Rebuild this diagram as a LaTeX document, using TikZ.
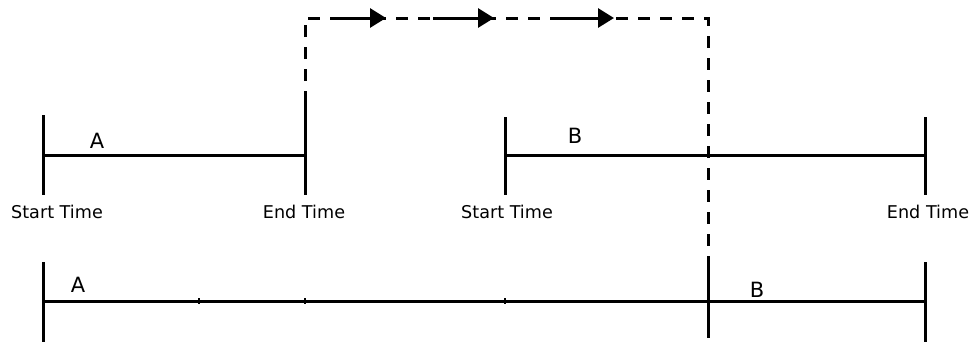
\documentclass[tikz,border=0pt]{standalone}
\usepackage{fontspec}
\setmainfont{DejaVu Sans}
\usetikzlibrary{arrows.meta}

\begin{document}
\begin{tikzpicture}[x=0.5pt, y=-0.5pt,
  bar/.style={line width=1.5pt},
  move/.style={line width=1.5pt, dash pattern=on 6pt off 5pt},
  ar/.style={line width=1.5pt, -{Triangle[length=8pt,width=9.5pt]}},
  tickmark/.style={line width=1.2pt},
  lbl/.style={font=\fontsize{8.8}{10}\selectfont, inner sep=0pt},
  tasklbl/.style={font=\fontsize{10.5}{12}\selectfont, inner sep=0pt}]
\useasboundingbox (0,0) rectangle (972,345);
% task A
\coordinate (aS) at (43,155);
\coordinate (aE) at (305,155);
\draw[bar] (43,115) -- (43,195);
\draw[bar] (305,103) -- (305,195);
\draw[bar] (aS) -- (aE);
\node[tasklbl] (aName) at (97,141) {A};
\node[lbl] (aStart) at (57,212) {Start Time};
\node[lbl] (aEnd) at (304,212) {End Time};
% task B
\coordinate (bS) at (505,155);
\coordinate (bE) at (925,155);
\draw[bar] (505,117) -- (505,195);
\draw[bar] (925,117) -- (925,195);
\draw[bar] (bS) -- (bE);
\node[tasklbl] (bName) at (575,136) {B};
\node[lbl] (bStart) at (507,212) {Start Time};
\node[lbl] (bEnd) at (928,212) {End Time};
% moving A behind B
\coordinate (jumpFrom) at (305,103);
\coordinate (jumpL) at (305,18);
\coordinate (jumpR) at (708,18);
\coordinate (jumpTo) at (708,262);
\draw[move] (jumpFrom) -- (jumpL) -- (jumpR) -- (jumpTo);
\foreach \xa/\xb in {338/386, 433/494, 562/614}
  \draw[ar] (\xa,18) -- (\xb,18);
% merged timeline
\coordinate (cS) at (43,301);
\coordinate (cE) at (925,301);
\draw[bar] (43,262) -- (43,342);
\draw[bar] (925,262) -- (925,342);
\draw[bar] (jumpTo) -- (708,338);
\draw[bar] (cS) -- (cE);
\foreach \xt in {199,305,505}
  \draw[tickmark] (\xt,298) -- (\xt,304);
\node[tasklbl] (cA) at (78,285) {A};
\node[tasklbl] (cB) at (757,290) {B};
\end{tikzpicture}
\end{document}
